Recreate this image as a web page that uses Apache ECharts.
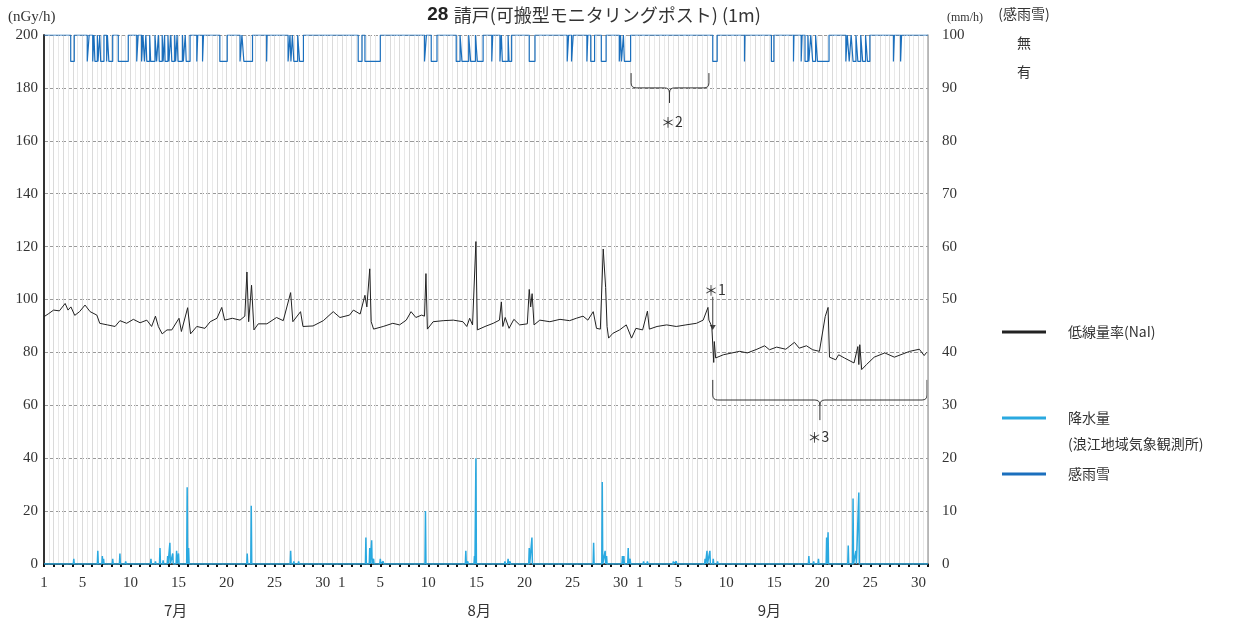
<!DOCTYPE html>
<html>
<head>
<meta charset="utf-8">
<title>28 請戸</title>
<script src="https://cdn.jsdelivr.net/npm/echarts@6/dist/echarts.min.js"></script>
<style>
  html, body { margin: 0; padding: 0; background: #fff; }
  #main { width: 1240px; height: 624px; }
</style>
</head>
<body>
<div id="main"></div>
<script>
// 日数は 7/1 0時からの経過日 (0〜92)
var doseRate = [ // 低線量率(NaI) nGy/h
  [0, 93.5], [0.5, 94.7], [1.0, 96], [1.6, 95.7], [2.2, 98.5], [2.5, 96], [2.8, 97.2], [3.2, 94], [3.7, 95.4],
  [4.27, 97.9], [4.8, 95.4], [5.5, 94.1], [5.8, 91], [6.6, 90.4], [7.4, 89.8], [7.9, 92], [8.6, 91],
  [9.3, 92.5], [10.0, 91.2], [10.7, 92.2], [11.2, 89.8], [11.6, 93.7], [11.9, 89.8], [12.3, 87], [12.8, 88.5],
  [13.3, 88.5], [14.05, 92.9], [14.3, 87.9], [14.95, 96.9], [15.25, 87], [15.9, 89.8], [16.75, 89.1],
  [17.3, 91.6], [18.0, 92.9], [18.5, 97], [18.8, 92.2], [19.6, 92.9], [20.4, 92.2], [20.9, 93.7],
  [21.12, 110.4], [21.3, 91.6], [21.6, 105.4], [21.85, 88.5], [22.3, 90.8], [23.2, 90.8], [24.2, 93.2],
  [24.9, 92], [25.67, 102.6], [25.9, 91.6], [26.7, 95.4], [26.95, 89.8], [28.0, 90], [29.07, 92],
  [30.1, 95.4], [30.8, 93.2], [31.8, 94.1], [32.2, 96], [32.9, 94.5], [33.4, 101.6], [33.6, 97.2],
  [33.9, 111.6], [34.05, 91.6], [34.3, 88.8], [35.3, 89.8], [36.3, 91], [37.0, 90.4], [37.7, 92.2],
  [38.2, 95.4], [38.7, 93.2], [39.3, 94.1], [39.6, 93.7], [39.75, 109.8], [39.9, 88.8], [40.5, 91.6],
  [41.55, 92], [42.6, 92.2], [43.6, 91.6], [44.0, 89.8], [44.3, 92.9], [44.6, 90.4], [44.95, 121.9],
  [45.1, 88.5], [45.9, 89.8], [46.75, 91], [47.4, 92.2], [47.6, 99.1], [47.75, 89.8], [48.0, 93.2],
  [48.4, 89.1], [48.9, 92.5], [49.5, 90.4], [50.3, 90.8], [50.5, 103.8], [50.65, 97.2], [50.8, 102.2],
  [51.0, 90.4], [51.6, 92.2], [52.65, 91.6], [53.7, 92.5], [54.7, 92], [55.4, 92.9], [56.1, 93.7],
  [56.6, 92.2], [57.16, 95.4], [57.5, 89.1], [57.9, 88.8], [58.2, 119.1], [58.45, 104.5], [58.6, 89.8],
  [58.76, 85.4], [59.2, 87.2], [59.9, 88.5], [60.6, 90.4], [61.15, 85.4], [61.6, 89.1], [62.3, 88.5],
  [62.8, 95.6], [63.0, 88.8], [63.8, 89.8], [64.8, 90.4], [65.8, 89.8], [66.8, 90.4], [67.9, 91],
  [68.6, 92.2], [69.1, 97], [69.2, 92.2], [69.5, 89.8], [69.65, 89.1], [69.7, 76.2], [69.76, 84.1],
  [69.9, 77.9], [70.7, 79.1], [71.6, 79.8], [72.4, 80.4], [73.2, 79.8], [74.2, 81.2], [75.0, 82.5],
  [75.5, 81], [76.25, 82], [77.2, 81.2], [78.1, 83.8], [78.6, 81.6], [79.35, 82.5], [80.0, 81],
  [80.7, 80.4], [81.3, 93.5], [81.6, 97], [81.75, 78.2], [82.4, 77.2], [82.7, 79.1], [83.3, 77.9],
  [84.3, 76], [84.7, 82.2], [84.8, 75.4], [84.9, 82.9], [85.1, 73.5], [85.6, 75.4], [86.4, 78.2],
  [87.5, 79.8], [88.5, 78.2], [90.1, 80.4], [91.1, 81.2], [91.6, 78.8], [91.85, 80]
];

var rainSpikes = [ // 降水量 mm/h  [日, 値]
  [3.1, 1], [5.6, 2.5], [6.07, 1.5], [6.2, 1], [7.15, 1], [7.9, 2], [8.5, 0.5], [11.13, 1], [11.6, 0.5],
  [12.07, 3], [12.4, 0.7], [12.87, 1.5], [13.1, 4], [13.4, 2], [13.8, 2.5], [14.0, 2], [14.9, 14.5],
  [15.05, 3], [21.15, 2], [21.57, 11], [25.67, 2.5], [26.0, 0.5], [26.5, 0.5], [33.5, 5], [33.9, 3],
  [34.1, 4.5], [34.3, 1], [35.0, 1], [35.3, 0.5], [39.7, 10], [43.9, 2.5], [44.1, 0.5], [44.8, 1.5],
  [44.95, 20], [47.97, 0.5], [48.3, 1], [48.5, 0.5], [50.5, 3], [50.78, 5], [57.2, 4], [58.1, 15.5],
  [58.4, 2.5], [58.55, 1.5], [60.2, 1.5], [60.35, 1.5], [60.8, 3], [61.0, 1], [62.4, 0.5], [62.8, 0.5],
  [65.5, 0.5], [65.8, 0.5], [68.8, 1], [69.0, 2.5], [69.3, 2.5], [69.65, 1], [70.1, 0.5], [79.6, 1.5],
  [80.1, 0.5], [80.6, 1], [81.45, 5], [81.6, 6], [83.3, 0.3], [83.7, 3.5], [84.2, 12.4], [84.5, 2.5],
  [84.8, 13.5]
];

var rainSnowOn = [ // 感雨雪 「有」の期間 [開始日, 終了日]
  [2.78, 3.15], [4.5, 4.7], [5.07, 5.2], [5.3, 5.55], [5.62, 5.8], [5.9, 6.24], [6.52, 6.6], [6.75, 7.15],
  [7.73, 8.77], [9.65, 9.8], [10.16, 10.3], [10.45, 10.6], [10.7, 11.0], [11.1, 11.55], [11.72, 11.9],
  [12.0, 12.3], [12.4, 12.55], [12.6, 12.9], [13.0, 13.2], [13.3, 13.6], [13.7, 13.85], [13.95, 14.4],
  [14.5, 14.7], [14.8, 15.2], [15.9, 16.0], [16.5, 16.6], [18.3, 19.07], [20.4, 20.6], [20.8, 21.7],
  [23.17, 23.22], [25.4, 25.6], [25.7, 25.85], [26.0, 26.4], [26.6, 27.0], [32.7, 33.1], [33.4, 35.0],
  [39.6, 39.8], [40.3, 40.9], [42.9, 43.3], [43.5, 44.2], [44.4, 44.9], [45.1, 45.7], [46.6, 46.7],
  [47.45, 47.6], [47.7, 48.3], [48.4, 48.67], [50.5, 51.1], [54.45, 54.6], [54.9, 55.08], [56.5, 56.6],
  [56.9, 57.3], [58.0, 58.5], [59.87, 60.0], [60.1, 60.3], [60.4, 61.05], [69.6, 70.06], [72.9, 72.95],
  [75.7, 75.96], [78.0, 78.05], [78.8, 78.9], [79.2, 79.5], [79.6, 79.8], [80.0, 80.3], [80.5, 81.7],
  [83.45, 83.6], [83.8, 84.0], [84.2, 84.5], [84.7, 85.0], [85.2, 85.5], [85.7, 85.95], [88.4, 88.5],
  [89.15, 89.25]
];

var xTickDays = [1, 5, 10, 15, 20, 25, 30];
var monthNames = ['7月', '8月', '9月'];
var monthStart = [0, 31, 62];

var serif = "'Liberation Serif', 'Noto Sans CJK JP', serif";
var cjk = "'Noto Sans CJK JP', sans-serif";

// 降水量の棒状スパイク
var rainLine = [[0, 0], [92, 0]];
rainSpikes.forEach(function (p) {
  rainLine.push([p[0] - 0.05, 0], [p[0], p[1]], [p[0] + 0.05, 0]);
});
rainLine.sort(function (a, b) { return a[0] - b[0]; });

// 感雨雪: 無=100, 有=95 (右軸)
var sensorLine = [[0, 100]];
rainSnowOn.forEach(function (r) {
  sensorLine.push([r[0], 100], [r[0], 95], [r[1], 95], [r[1], 100]);
});
sensorLine.push([92, 100]);

function dayLabel(d) {
  var m = d >= 62 ? 2 : (d >= 31 ? 1 : 0);
  var dom = d - monthStart[m] + 1;
  if (d >= 92) return '';
  return xTickDays.indexOf(dom) >= 0 ? String(dom) : '';
}

var chart = echarts.init(document.getElementById('main'));
var option = {
  animation: false,
  grid: { left: 44, right: 312, top: 35, bottom: 60 },
  xAxis: {
    type: 'value', min: 0, max: 92, interval: 1,
    axisLine: { lineStyle: { color: '#111', width: 1.5 } },
    axisTick: { show: true, length: 3, lineStyle: { color: '#111', width: 2 } },
    minorTick: { show: false, splitNumber: 2 },
    axisLabel: { formatter: dayLabel, color: '#333', fontSize: 15, fontFamily: serif, margin: 12 },
    splitLine: { show: true, lineStyle: { color: '#dadada', width: 1 } },
    minorSplitLine: { show: true, lineStyle: { color: '#e9e9e9', width: 1 } }
  },
  yAxis: [{
    type: 'value', min: 0, max: 200, interval: 20,
    axisLine: { show: true, lineStyle: { color: '#333', width: 2 } },
    axisTick: { show: false },
    axisLabel: { color: '#333', fontSize: 15, fontFamily: serif, margin: 6 },
    splitLine: { show: true, lineStyle: { color: '#999', type: [4, 2], width: 1 } }
  }, {
    type: 'value', min: 0, max: 100, interval: 10,
    axisLine: { show: true, lineStyle: { color: '#aaa', width: 1.5 } },
    axisTick: { show: false },
    axisLabel: { color: '#333', fontSize: 15, fontFamily: serif, margin: 14 },
    splitLine: { show: false }
  }],
  series: [{
    name: '低線量率(NaI)', type: 'line', yAxisIndex: 0, data: doseRate,
    showSymbol: false, lineStyle: { color: '#222', width: 1 }, z: 3
  }, {
    name: '降水量', type: 'line', yAxisIndex: 1, data: rainLine,
    showSymbol: false, lineStyle: { color: '#2aa9e0', width: 1.5 }, z: 2
  }, {
    name: '感雨雪', type: 'line', yAxisIndex: 1, data: sensorLine,
    showSymbol: false, lineStyle: { color: '#1b6fbd', width: 1.2 }, z: 2
  }]
};
chart.setOption(option);

function px(d, v) { return chart.convertToPixel({ xAxisIndex: 0, yAxisIndex: 0 }, [d, v]); }

var g = [];
var braceStyle = { stroke: '#333', lineWidth: 1, fill: null };
function seg(x1, y1, x2, y2) {
  g.push({ type: 'line', shape: { x1: x1, y1: y1, x2: x2, y2: y2 }, style: braceStyle });
}
function curve(x1, y1, cx, cy, x2, y2) {
  g.push({ type: 'bezierCurve', shape: { x1: x1, y1: y1, cpx1: cx, cpy1: cy, x2: x2, y2: y2 }, style: braceStyle });
}
// 波括弧
function brace(d1, d2, dm, vTop, vH, vTip) {
  var a = px(d1, vTop), b = px(d2, vTop), h = px(dm, vH), t = px(dm, vTip);
  var r = 5, y = h[1];
  seg(a[0], a[1], a[0], y - r);
  curve(a[0], y - r, a[0], y, a[0] + r, y);
  seg(a[0] + r, y, h[0] - r, y);
  curve(h[0] - r, y, h[0], y, h[0], y + r);
  curve(h[0] + r, y, h[0], y, h[0], y + r);
  seg(h[0], y + r, h[0], t[1]);
  seg(h[0] + r, y, b[0] - r, y);
  curve(b[0] - r, y, b[0], y, b[0], y - r);
  seg(b[0], y - r, b[0], b[1]);
}

function txt(x, y, s, size, font, align) {
  g.push({ type: 'text', x: x, y: y, style: { text: s, fill: '#333', font: size + 'px ' + font, align: align || 'center', verticalAlign: 'middle' } });
}

// タイトル・単位
g.push({ type: 'text', x: 594, y: 15, style: {
  text: '{a|28 }{b|請戸(可搬型モニタリングポスト) (1m)}', align: 'center', verticalAlign: 'middle',
  rich: { a: { fontSize: 19, fontWeight: 'bold', fontFamily: "'Liberation Sans', sans-serif", fill: '#222' },
          b: { fontSize: 18, fontFamily: cjk, fill: '#333' } } } });
txt(8, 17, '(nGy/h)', 15, serif, 'left');
txt(965, 18, '(mm/h)', 12, serif);
txt(1024, 14, '(感雨雪)', 14, cjk);
txt(1024, 43, '無', 14, cjk);
txt(1024, 72, '有', 14, cjk);

// 月ラベル
monthNames.forEach(function (m, i) {
  var p = px(monthStart[i] + [13.7, 14.3, 13.5][i], 0);
  txt(p[0], 610, m, 15, cjk);
});

// 凡例
var legendItems = [
  { y: 332, color: '#222', label: '低線量率(NaI)' },
  { y: 418, color: '#2aa9e0', label: '降水量' },
  { y: 474, color: '#1b6fbd', label: '感雨雪' }
];
legendItems.forEach(function (it) {
  g.push({ type: 'line', shape: { x1: 1002, y1: it.y, x2: 1046, y2: it.y }, style: { stroke: it.color, lineWidth: 3 } });
  txt(1068, it.y, it.label, 14, cjk, 'left');
});
txt(1068, 444, '(浪江地域気象観測所)', 14, cjk, 'left');

// 注記 ＊1
var s1 = px(69.6, 103.6), a1 = px(69.6, 101), a2 = px(69.6, 88.5);
txt(s1[0] + 2, s1[1], '＊1', 14, cjk);
g.push({ type: 'line', shape: { x1: a1[0], y1: a1[1], x2: a2[0], y2: a2[1] - 4 }, style: { stroke: '#444', lineWidth: 1 } });
g.push({ type: 'polygon', shape: { points: [[a2[0] - 3, a2[1] - 5], [a2[0] + 3, a2[1] - 5], [a2[0], a2[1]]] }, style: { fill: '#444' } });

// 注記 ＊2, ＊3
brace(61.1, 69.2, 65.1, 185.6, 180, 174.3);
var s2 = px(65.35, 167.1);
txt(s2[0], s2[1], '＊2', 14, cjk);
brace(69.6, 91.9, 80.75, 69.6, 62, 54.4);
var s3 = px(80.6, 48);
txt(s3[0], s3[1], '＊3', 14, cjk);

chart.setOption({ graphic: g });
</script>
</body>
</html>
